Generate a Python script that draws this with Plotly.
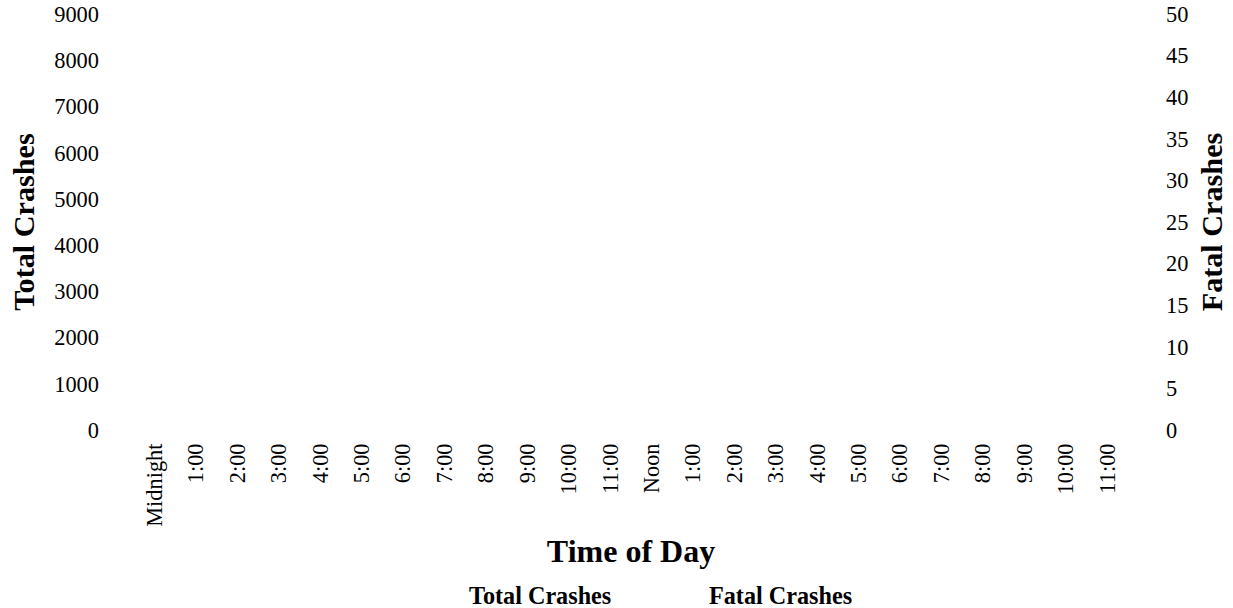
import plotly.graph_objects as go

# Categories (hour of day) and tick labels
hours = ["Midnight", "1:00", "2:00", "3:00", "4:00", "5:00", "6:00", "7:00",
         "8:00", "9:00", "10:00", "11:00", "Noon", "1:00 PM", "2:00 PM", "3:00 PM",
         "4:00 PM", "5:00 PM", "6:00 PM", "7:00 PM", "8:00 PM", "9:00 PM",
         "10:00 PM", "11:00 PM"]
hour_labels = ["Midnight", "1:00", "2:00", "3:00", "4:00", "5:00", "6:00", "7:00",
               "8:00", "9:00", "10:00", "11:00", "Noon", "1:00", "2:00", "3:00",
               "4:00", "5:00", "6:00", "7:00", "8:00", "9:00", "10:00", "11:00"]

# No data marks are visible in the reference chart (values missing)
total_crashes = [None, None, None, None, None, None, None, None, None, None, None, None,
                 None, None, None, None, None, None, None, None, None, None, None, None]
fatal_crashes = [None, None, None, None, None, None, None, None, None, None, None, None,
                 None, None, None, None, None, None, None, None, None, None, None, None]

left_ticks = [0, 1000, 2000, 3000, 4000, 5000, 6000, 7000, 8000, 9000]
right_ticks = [0, 5, 10, 15, 20, 25, 30, 35, 40, 45, 50]

FONT = "Liberation Serif"
TICK = 22.4

fig = go.Figure()
fig.add_trace(go.Bar(
    x=hours, y=total_crashes, name="Total Crashes",
    marker=dict(color="rgba(0,0,0,0)", line=dict(width=0)), yaxis="y"))
fig.add_trace(go.Scatter(
    x=hours, y=fatal_crashes, name="Fatal Crashes",
    mode="lines", line=dict(color="rgba(0,0,0,0)", width=0), yaxis="y2"))

fig.update_layout(
    width=1233, height=608,
    paper_bgcolor="white", plot_bgcolor="white",
    margin=dict(l=134, r=105, t=14, b=178, autoexpand=False),
    font=dict(family=FONT, color="black", size=TICK),
    showlegend=True,
    legend=dict(orientation="h", xref="container", yref="container",
                x=429 / 1233, y=1 - 572 / 608, xanchor="left", yanchor="top",
                entrywidth=195, entrywidthmode="pixels",
                font=dict(family=FONT, size=24.2, color="black", weight="bold"),
                bgcolor="rgba(0,0,0,0)"),
    xaxis=dict(type="category", categoryorder="array", categoryarray=hours,
               tickmode="array", tickvals=hours, ticktext=hour_labels,
               range=[-0.5, 23.5], tickangle=-90, showgrid=False, zeroline=False,
               showline=False, ticks="", ticklabelstandoff=8,
               ticklabeloverflow="allow",
               tickfont=dict(family=FONT, size=TICK),
               title=dict(text="Time of Day", standoff=13,
                          font=dict(family=FONT, size=32, weight="bold"))),
    yaxis=dict(range=[0, 9000], tickmode="array", tickvals=left_ticks,
               showgrid=False, zeroline=False, showline=False, ticks="",
               ticklabelstandoff=34, ticklabeloverflow="allow",
               tickfont=dict(family=FONT, size=TICK),
               title=dict(text="Total Crashes", standoff=10,
                          font=dict(family=FONT, size=30.2, weight="bold"))),
    yaxis2=dict(range=[0, 50], tickmode="array", tickvals=right_ticks,
                overlaying="y", side="right", showgrid=False, zeroline=False,
                showline=False, ticks="", ticklabelstandoff=37,
                ticklabeloverflow="allow",
                tickfont=dict(family=FONT, size=TICK),
                title=dict(text="Fatal Crashes", standoff=13,
                           font=dict(family=FONT, size=30.2, weight="bold"))),
)

fig.write_html("out.html",
               config={"displayModeBar": False},
               post_script="document.body.style.margin='0';")
